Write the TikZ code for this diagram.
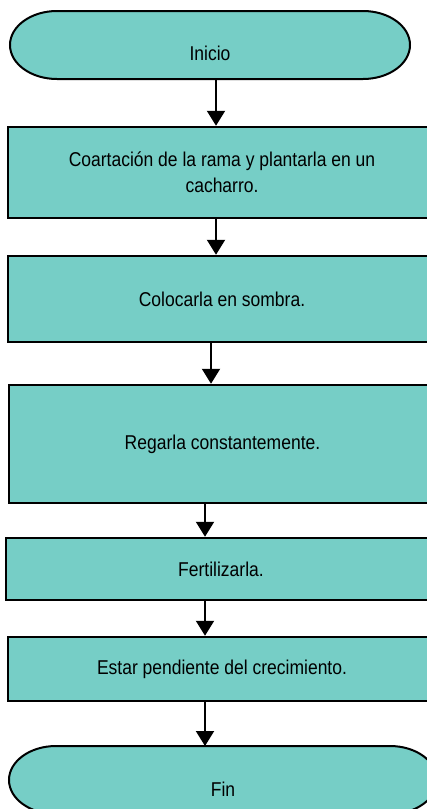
\documentclass[tikz,border=0pt]{standalone}
\usepackage{fontspec}
\setmainfont{Liberation Sans}[FakeStretch=0.875]
\usetikzlibrary{arrows.meta,backgrounds}
\definecolor{tealfill}{RGB}{118,206,198}
\tikzset{
  txt/.style={font=\fontsize{20}{26}\selectfont},
  stepbox/.style={txt, draw=black, line width=2.5pt, fill=tealfill, minimum width=428pt, inner sep=0pt, align=center},
  termnode/.style={txt, inner sep=0pt, outer sep=0pt},
  termline/.style={draw=black, line width=2pt, fill=tealfill},
  arr/.style={line width=2pt, -{Triangle[length=15pt,width=18pt]}}
}
\begin{document}
\begin{tikzpicture}[x=1pt,y=-1pt]
\useasboundingbox (0,0) rectangle (427,809);
\clip (0,0) rectangle (427,809);

% terminals (text nodes; shapes drawn behind)
\node[termnode, minimum width=400pt, minimum height=68pt] (t1) at (210,45) {\raisebox{-15pt}[0pt][0pt]{Inicio}};
\node[termnode, minimum width=428pt, minimum height=68pt] (t2) at (223,780) {\raisebox{-16pt}[0pt][0pt]{Fin}};

\begin{scope}[on background layer]
  \clip (0,0) rectangle (427,809);
  \draw[termline] ([xshift=47pt]t1.north west) -- ([xshift=-47pt]t1.north east)
     arc[start angle=90, end angle=-90, x radius=47pt, y radius=34pt]
     -- ([xshift=47pt]t1.south west)
     arc[start angle=270, end angle=90, x radius=47pt, y radius=34pt] -- cycle;
  \draw[termline] ([xshift=47pt]t2.north west) -- ([xshift=-47pt]t2.north east)
     arc[start angle=90, end angle=-90, x radius=47pt, y radius=34pt]
     -- ([xshift=47pt]t2.south west)
     arc[start angle=270, end angle=90, x radius=47pt, y radius=34pt] -- cycle;
\end{scope}

% process boxes
\node[stepbox, minimum height=91pt] (b1) at (222,172.5) {Coartación de la rama y plantarla en un\\cacharro.};
\node[stepbox, minimum height=86pt] (b2) at (222,299) {Colocarla en sombra.};
\node[stepbox, minimum height=118pt, minimum width=427pt] (b3) at (222.5,444) {Regarla constantemente.};
\node[stepbox, minimum height=62pt, minimum width=430pt] (b4) at (221,569) {Fertilizarla.};
\node[stepbox, minimum height=64pt] (b5) at (222,669) {Estar pendiente del crecimiento.};

% connectors
\draw[arr] ([xshift=6pt]t1.south) -- ([xshift=-6pt]b1.north);
\draw[arr] ([xshift=-6pt]b1.south) -- ([xshift=-6pt]b2.north);
\draw[arr] ([xshift=-11pt]b2.south) -- ([xshift=-11.5pt]b3.north);
\draw[arr] ([xshift=-17.5pt]b3.south) -- ([xshift=-16pt]b4.north);
\draw[arr] ([xshift=-16pt]b4.south) -- ([xshift=-17pt]b5.north);
\draw[arr] ([xshift=-17pt]b5.south) -- ([xshift=-18pt]t2.north);
\end{tikzpicture}
\end{document}
